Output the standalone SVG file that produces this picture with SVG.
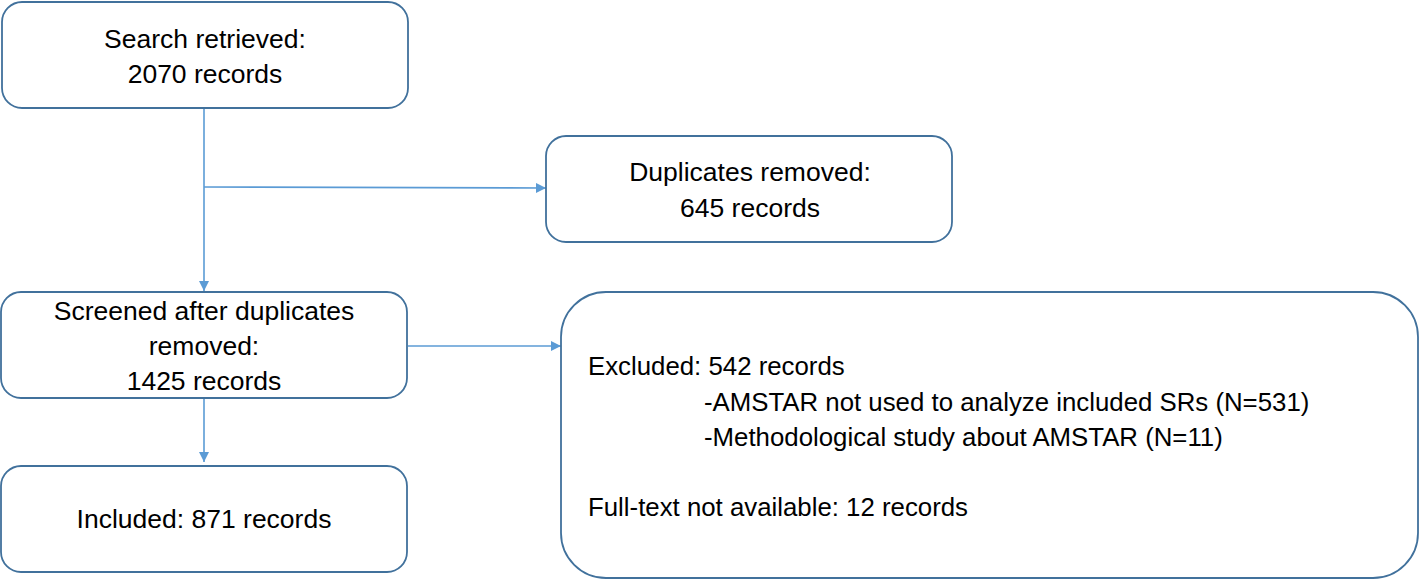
<svg xmlns="http://www.w3.org/2000/svg" width="1424" height="581" viewBox="0 0 1424 581">
<defs>
<style>
.box{fill:#ffffff;stroke:#41719C;stroke-width:1.8}
.t{font-family:"Liberation Sans",Arial,sans-serif;font-size:26.5px;fill:#000000;text-anchor:middle}
.s{font-family:"Liberation Sans",Arial,sans-serif;font-size:25.8px;fill:#000000}
.c{fill:none;stroke:#5B9BD5;stroke-width:1.6}
</style>
<marker id="arr" viewBox="0 0 10 10" refX="10" refY="5" markerWidth="10" markerHeight="10" markerUnits="userSpaceOnUse" orient="auto">
<path d="M0,0 L10,5 L0,10 z" fill="#5B9BD5"/>
</marker>
</defs>
<rect width="1424" height="581" fill="#ffffff"/>
<g id="connectors">
<line class="c" x1="204" y1="108" x2="204" y2="291" marker-end="url(#arr)"/>
<line class="c" x1="204" y1="187" x2="546" y2="188" marker-end="url(#arr)"/>
<line class="c" x1="408" y1="346" x2="561" y2="346" marker-end="url(#arr)"/>
<line class="c" x1="204" y1="398" x2="204" y2="462" marker-end="url(#arr)"/>
</g>
<g id="search">
<rect class="box" x="2" y="2" width="406" height="106" rx="20"/>
<text class="t" x="205" y="48">Search retrieved:</text>
<text class="t" x="205" y="83">2070 records</text>
</g>
<g id="duplicates">
<rect class="box" x="546" y="136" width="406" height="106" rx="20"/>
<text class="t" x="750" y="181">Duplicates removed:</text>
<text class="t" x="750" y="217">645 records</text>
</g>
<g id="screened">
<rect class="box" x="1" y="292" width="406" height="106" rx="20"/>
<text class="t" x="204" y="320">Screened after duplicates</text>
<text class="t" x="204" y="355">removed:</text>
<text class="t" x="204" y="390">1425 records</text>
</g>
<g id="included">
<rect class="box" x="1" y="466" width="406" height="106" rx="20"/>
<text class="t" x="204" y="528">Included: 871 records</text>
</g>
<g id="excluded">
<rect class="box" x="561" y="292" width="857" height="286" rx="45"/>
<text class="s" x="588" y="375">Excluded: 542 records</text>
<text class="s" x="704" y="411">-AMSTAR not used to analyze included SRs (N=531)</text>
<text class="s" x="704" y="446">-Methodological study about AMSTAR (N=11)</text>
<text class="s" x="588" y="516">Full-text not available: 12 records</text>
</g>
</svg>
